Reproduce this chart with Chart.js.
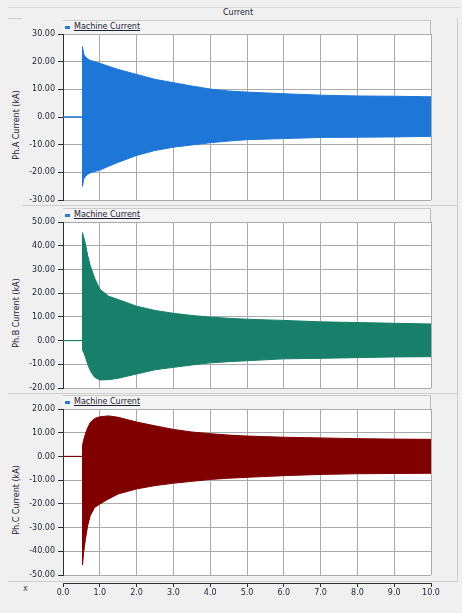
<!DOCTYPE html>
<html>
<head>
<meta charset="utf-8">
<title>Current</title>
<script src="https://cdn.jsdelivr.net/npm/chart.js@4.4.1/dist/chart.umd.min.js"></script>
<style>
  html, body { margin: 0; padding: 0; }
  body {
    width: 462px; height: 613px; position: relative; overflow: hidden;
    background: #f0f0f0;
    font-family: 'DejaVu Sans', sans-serif; font-size: 8px; color: #1a2038;
  }
  .abs { position: absolute; }
  canvas { position: absolute; left: 0; }
  .title { top: 7px; left: 200px; width: 76px; text-align: center; line-height: 12px; }
  .rule { background: #cfcfcf; }
  .surface { position: absolute; left: 63px; width: 368px; height: 166px; background: #ffffff; }
  .strip {
    position: absolute; left: 63px; width: 368px; height: 14px; box-sizing: border-box;
    background: #f4f4f4; border-top: 1px solid #c9c9c9; border-right: 1px solid #b9b9b9;
  }
  .strip .mark { position: absolute; left: 2px; top: 5px; width: 5px; height: 3px; background: #2a7ad8; }
  .strip .name { position: absolute; left: 11px; top: 0; line-height: 12px; text-decoration: underline; white-space: nowrap; }
  .ytitle { position: absolute; left: 15.5px; white-space: nowrap; transform: translate(-50%, -50%) rotate(-90deg); }
</style>
</head>
<body>
  <div class="abs title">Current</div>
  <div class="abs rule" style="left:8px; top:7px; width:453px; height:1px; background:#dadada"></div>
  <div class="abs rule" style="left:8px; top:18px; width:14px; height:1px"></div>
  <div class="abs rule" style="left:457px; top:18px; width:1px; height:564px"></div>
  <div class="abs rule" style="left:22px; top:205px; width:436px; height:1px"></div>
  <div class="abs rule" style="left:8px; top:393px; width:450px; height:1px"></div>
  <div class="abs rule" style="left:8px; top:581px; width:450px; height:1px"></div>

  <!-- white plotting surfaces behind the chart canvases -->
  <div class="surface" style="top:34px"></div>
  <div class="surface" style="top:222px"></div>
  <div class="surface" style="top:409px"></div>

  <div class="strip" style="top:20px"><div class="mark"></div><div class="name">Machine Current</div></div>
  <div class="strip" style="top:208px"><div class="mark"></div><div class="name">Machine Current</div></div>
  <div class="strip" style="top:395px"><div class="mark"></div><div class="name">Machine Current</div></div>

  <div class="ytitle" style="top:125px">Ph.A Current (kA)</div>
  <div class="ytitle" style="top:313px">Ph.B Current (kA)</div>
  <div class="ytitle" style="top:500px">Ph.C Current (kA)</div>
  <div class="abs" style="left:23px; top:584px; line-height:10px; color:#404050">x</div>

  <canvas id="phA" width="462" height="182" style="top:26px"></canvas>
  <canvas id="phB" width="462" height="182" style="top:214px"></canvas>
  <canvas id="phC" width="462" height="182" style="top:401px"></canvas>
  <canvas id="xAxis" width="462" height="43" style="top:570px"></canvas>

<script>
// Simulation window (s) and the instant the fault is applied
const timeRange = [0, 10];
const faultTime = 0.53;

// Sample times of the current envelopes after the fault (s)
const envTime = [0.53, 0.56, 0.61, 0.67, 0.74, 0.86, 1.0, 1.24, 1.5, 2.0, 2.5,
                 3.0, 3.5, 4.0, 4.5, 5.0, 6.0, 7.0, 8.0, 9.0, 10.0];

// Phase A machine current envelope (kA)
const phaseAUpper = [25.5, 22.8, 21.8, 21.0, 20.5, 20.0, 19.4, 18.3, 17.2, 15.4, 13.6,
                     12.4, 11.2, 10.1, 9.4, 9.0, 8.4, 7.9, 7.6, 7.5, 7.3];
const phaseALower = [-25.1, -22.5, -21.5, -20.7, -20.2, -19.7, -19.2, -17.8, -16.4, -13.9, -12.1,
                     -10.9, -10.1, -9.3, -8.7, -8.2, -7.8, -7.4, -7.3, -7.2, -7.0];

// Phase B machine current envelope (kA)
const phaseBUpper = [45.5, 43.7, 40.8, 35.9, 31.7, 26.3, 21.7, 18.7, 17.3, 14.5, 12.7,
                     11.5, 10.6, 9.9, 9.4, 9.0, 8.5, 7.9, 7.6, 7.3, 7.0];
const phaseBLower = [-4.2, -4.9, -7.0, -9.9, -12.7, -15.5, -16.6, -16.5, -15.9, -14.1, -12.3,
                     -11.3, -10.3, -9.4, -8.9, -8.5, -7.7, -7.5, -7.2, -6.9, -6.8];

// Phase C machine current envelope (kA)
const phaseCUpper = [4.7, 6.8, 9.6, 12.0, 14.3, 16.0, 16.7, 17.1, 16.5, 14.5, 12.9,
                     11.4, 10.3, 9.6, 9.0, 8.6, 8.1, 7.8, 7.5, 7.3, 7.2];
const phaseCLower = [-45.8, -40.5, -34.9, -29.2, -25.0, -21.5, -20.1, -17.9, -15.8, -13.7, -12.3,
                     -11.3, -10.5, -9.7, -9.2, -8.8, -8.1, -7.6, -7.3, -7.2, -7.1];

// Y-axis ranges (kA) and tick steps
const rangeA = [-30, 30];
const rangeB = [-20, 50];
const rangeC = [-50, 20];
const yStep = 10;
const xStep = 1;

const GRID = '#aaaaaa';
const AXIS = '#2e2e2e';
const LABEL = '#1a2038';

Chart.defaults.font.family = "'DejaVu Sans', sans-serif";
Chart.defaults.font.size = 8;
Chart.defaults.animation = false;

// Closed outline: zero current before the fault, then upper envelope
// forward in time and lower envelope back again.
function outline(upper, lower) {
  const pts = [{x: timeRange[0], y: 0}, {x: faultTime, y: 0}];
  envTime.forEach((t, i) => pts.push({x: t, y: upper[i]}));
  for (let i = envTime.length - 1; i >= 0; i--) pts.push({x: envTime[i], y: lower[i]});
  pts.push({x: faultTime, y: 0}, {x: timeRange[0], y: 0});
  return pts;
}

function panel(id, upper, lower, color, range) {
  return new Chart(document.getElementById(id), {
    type: 'line',
    data: {
      datasets: [{
        label: 'Machine Current',
        data: outline(upper, lower),
        borderColor: color,
        backgroundColor: color,
        borderWidth: 1,
        pointRadius: 0,
        tension: 0,
        fill: 'shape'
      }]
    },
    options: {
      responsive: false,
      devicePixelRatio: 1,
      layout: { padding: { left: 0, right: 31, top: 8, bottom: 8 } },
      plugins: { legend: { display: false }, tooltip: { enabled: false } },
      scales: {
        x: {
          type: 'linear', min: timeRange[0], max: timeRange[1],
          ticks: { display: false, stepSize: xStep },
          grid: { color: GRID, drawTicks: false },
          border: { display: false },
          afterFit(s) { s.height = 0; }
        },
        y: {
          min: range[0], max: range[1],
          ticks: { stepSize: yStep, padding: 3, color: LABEL, callback: v => v.toFixed(2) },
          grid: { color: GRID, tickLength: 5, tickColor: AXIS },
          border: { display: true, color: AXIS },
          afterFit(s) { s.width = 63; }
        }
      }
    }
  });
}

panel('phA', phaseAUpper, phaseALower, '#1e76d6', rangeA);
panel('phB', phaseBUpper, phaseBLower, '#187f6b', rangeB);
panel('phC', phaseCUpper, phaseCLower, '#800000', rangeC);

// Shared time axis under the three panels
new Chart(document.getElementById('xAxis'), {
  type: 'line',
  data: { datasets: [] },
  options: {
    responsive: false,
    devicePixelRatio: 1,
    layout: { padding: { left: 63, right: 31, top: 0, bottom: 0 } },
    plugins: { legend: { display: false }, tooltip: { enabled: false } },
    scales: {
      x: {
        type: 'linear', min: timeRange[0], max: timeRange[1],
        ticks: { stepSize: xStep, padding: 1, maxRotation: 0, autoSkip: false, color: LABEL,
                 callback: v => v.toFixed(1) },
        grid: { drawOnChartArea: false, tickLength: 4, tickColor: AXIS },
        border: { display: true, color: AXIS },
        afterFit(s) { s.height = 30; }
      },
      y: { display: false, min: 0, max: 1 }
    }
  }
});
</script>
</body>
</html>
